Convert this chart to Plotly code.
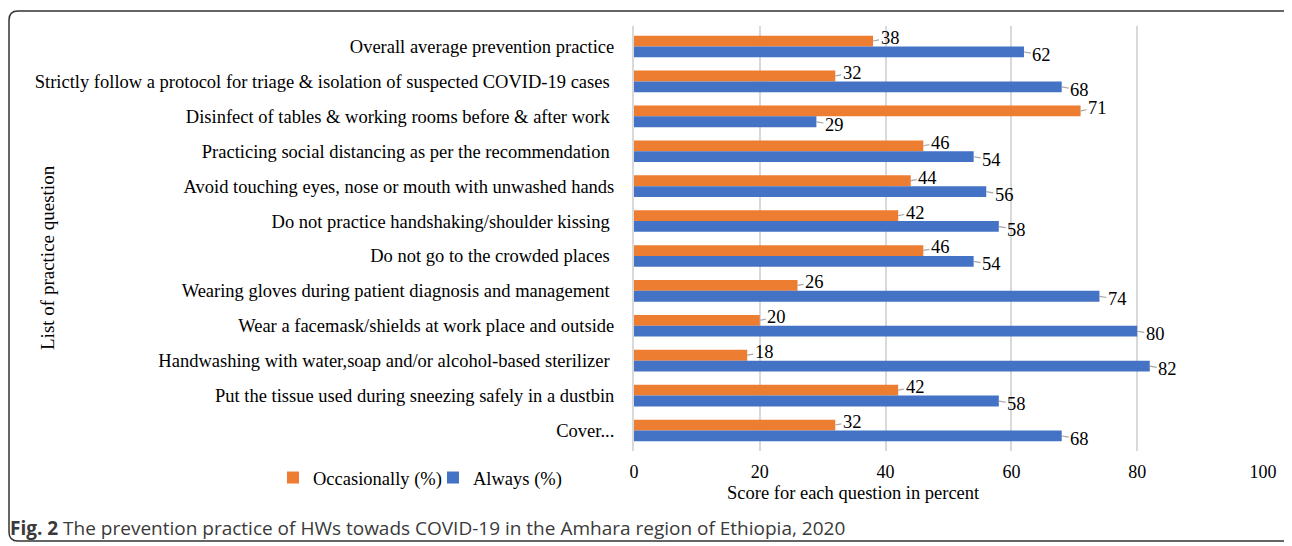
import plotly.graph_objects as go

categories = [
    "Overall average prevention practice",
    "Strictly follow a protocol for triage & isolation of suspected COVID-19 cases ",
    "Disinfect of tables & working rooms before & after work ",
    "Practicing social distancing as per the recommendation ",
    "Avoid touching eyes, nose or mouth with unwashed hands",
    "Do not practice handshaking/shoulder kissing ",
    "Do not go to the crowded places ",
    "Wearing gloves during patient diagnosis and management ",
    "Wear a facemask/shields at work place and outside",
    "Handwashing with water,soap and/or alcohol-based sterilizer ",
    "Put the tissue used during sneezing safely in a dustbin",
    "Cover...",
]
occasionally = [38, 32, 71, 46, 44, 42, 46, 26, 20, 18, 42, 32]
always = [62, 68, 29, 54, 56, 58, 54, 74, 80, 82, 58, 68]
x_ticks = [0, 20, 40, 60, 80, 100]

ORANGE = "#ED7D31"
BLUE = "#4472C4"
SERIF = "Liberation Serif"

# page body has an 8px margin; figure coordinates are page coordinates minus 8
OFF = 8
W, H = 1292 - OFF, 546 - OFF
L, R, T = 634 - OFF, 29, 26 - OFF
pw = W - L - R
ph = 425
B = H - T - ph


def px_x(p):
    return (p - OFF - L) / pw


def px_y(p):
    return (H - B - (p - OFF)) / ph


fig = go.Figure()
fig.add_trace(go.Bar(y=categories, x=occasionally, orientation="h", name="Occasionally (%)",
                     marker=dict(color=ORANGE, line=dict(width=0))))
fig.add_trace(go.Bar(y=categories, x=always, orientation="h", name="Always (%)",
                     marker=dict(color=BLUE, line=dict(width=0))))

annotations = []
for c, v in zip(categories, occasionally):
    annotations.append(dict(x=v, y=c, xref="x", yref="y", text=str(v), showarrow=True,
                            arrowhead=0, arrowwidth=1.2, arrowcolor="#a6a6a6",
                            ax=17, ay=-3, yshift=5.5, font=dict(family=SERIF, size=18.5, color="#000"),
                            standoff=0, startstandoff=0))
for c, v in zip(categories, always):
    annotations.append(dict(x=v, y=c, xref="x", yref="y", text=str(v), showarrow=True,
                            arrowhead=0, arrowwidth=1.2, arrowcolor="#a6a6a6",
                            ax=18, ay=3, yshift=-5.5, font=dict(family=SERIF, size=18.5, color="#000"),
                            standoff=0, startstandoff=0))

annotations.append(dict(text="List of practice question", textangle=-90, xref="paper", yref="paper",
                        x=px_x(47), y=px_y(258), xanchor="center", yanchor="middle", showarrow=False,
                        font=dict(family=SERIF, size=19, color="#000")))
annotations.append(dict(text="Score for each question in percent", xref="paper", yref="paper",
                        x=px_x(853), y=px_y(493), xanchor="center", yanchor="middle", showarrow=False,
                        font=dict(family=SERIF, size=18.5, color="#000")))
annotations.append(dict(text="<b>Fig. 2</b> The prevention practice of HWs towads COVID-19 in the Amhara region of Ethiopia, 2020",
                        xref="paper", yref="paper", x=px_x(8), y=px_y(528), xanchor="left", yanchor="middle",
                        showarrow=False, font=dict(family="Open Sans", size=19, color="#3a3a3a")))

# rounded border
x0, x1 = px_x(9), px_x(1296)
y0, y1 = px_y(541), px_y(11)
rx, ry = 9 / pw, 9 / ph
path = (f"M {x0+rx},{y1} L {x1-rx},{y1} Q {x1},{y1} {x1},{y1-ry} L {x1},{y0+ry} "
        f"Q {x1},{y0} {x1-rx},{y0} L {x0+rx},{y0} Q {x0},{y0} {x0},{y0+ry} "
        f"L {x0},{y1-ry} Q {x0},{y1} {x0+rx},{y1} Z")

fig.update_layout(
    width=W, height=H,
    margin=dict(l=L, r=R, t=T, b=B),
    paper_bgcolor="white", plot_bgcolor="white",
    barmode="group", bargap=0.38, bargroupgap=0,
    font=dict(family=SERIF, size=18, color="#000"),
    showlegend=True,
    legend=dict(orientation="h", x=px_x(273), y=px_y(478), xanchor="left", yanchor="middle",
                font=dict(family=SERIF, size=18.5, color="#000"), itemwidth=30,
                entrywidth=115, entrywidthmode="pixels",
                bgcolor="rgba(0,0,0,0)"),
    annotations=annotations,
    shapes=[dict(type="path", path=path, xref="paper", yref="paper",
                 line=dict(color="#333", width=1.5), layer="above")],
    xaxis=dict(range=[0, 100], tickvals=x_ticks, showgrid=True, gridcolor="#d9d9d9", gridwidth=2,
               zeroline=False, showline=False, ticks="", ticklabelstandoff=8,
               tickfont=dict(family=SERIF, size=18, color="#000")),
    yaxis=dict(autorange="reversed", showgrid=False, zeroline=False, showline=True,
               linecolor="#d9d9d9", linewidth=2, ticks="", ticklabelstandoff=14,
               tickfont=dict(family=SERIF, size=18.5, color="#000")),
)

fig.write_html("out.html")
